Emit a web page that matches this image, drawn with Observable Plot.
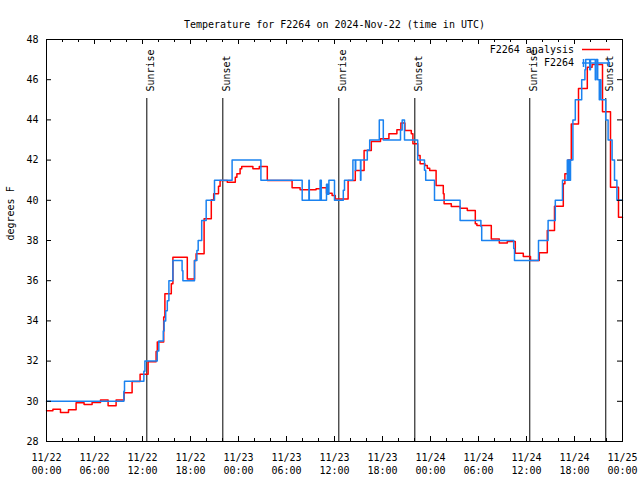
<!DOCTYPE html>
<html><head><meta charset="utf-8">
<script src="https://cdn.jsdelivr.net/npm/d3@7"></script>
<script src="https://cdn.jsdelivr.net/npm/@observablehq/plot@0.6"></script>
<style>body{margin:0;background:#fff}svg{display:block}</style>
</head><body><div id="chart"></div>
<script>
const title = "Temperature for F2264 on 2024-Nov-22 (time in UTC)";
const yLabel = "degrees F";
const baseDate = Date.UTC(2024, 10, 22); // hours below are counted from 2024-11-22 00:00 UTC
const analysisName = "F2264 analysis";
const obsName = "F2264";

// [hour, °F] — analysis (red)
const analysis = [
  [0,29.53],[0.8,29.6],[1.75,29.44],[2.75,29.58],[3.7,29.93],[4.7,29.84],[5.7,29.94],[6.75,30.07],
  [7.7,29.78],[8.7,30.07],[9.7,30.42],[10.7,30.98],[11.7,31.35],[12.7,31.97],[13.7,32.48],[13.85,32.95],
  [14.65,34.2],[14.8,35.35],[15.6,35.85],[15.8,37.17],[17.6,36.09],[18.5,37.0],[18.7,37.34],[19.7,39.08],
  [20.6,40.03],[20.9,40.32],[21.5,40.7],[21.7,40.99],[22.6,40.9],[23.6,41.15],[23.8,41.32],[24.2,41.57],
  [24.4,41.68],[25.8,41.57],[26.6,41.68],[27.6,40.99],[30.7,40.62],[31.7,40.52],[33.7,40.57],[34.3,40.62],
  [35.0,40.35],[35.7,40.24],[36.1,40.07],[37.7,40.99],[38.6,41.48],[39.7,42.48],[40.6,42.93],[41.75,43.06],
  [42.8,43.31],[43.8,43.51],[44.3,43.84],[44.8,43.47],[45.6,43.31],[45.8,42.81],[46.4,42.23],[46.7,41.82],
  [47.3,41.73],[47.6,41.6],[47.9,41.48],[48.7,40.74],[49.6,40.32],[49.7,39.83],[50.6,39.69],[51.7,39.61],
  [52.6,39.49],[53.6,38.83],[53.8,38.75],[55.6,38.08],[56.6,37.87],[57.6,37.95],[58.6,37.37],[59.6,37.2],
  [60.5,37.0],[61.6,37.39],[62.6,38.5],[63.5,39.71],[64.6,40.82],[64.8,41.32],[65.2,42.0],[65.6,43.8],
  [66.5,45.56],[67.6,46.62],[68.2,46.76],[69.5,44.4],[70.5,40.65],[71.5,39.16],[72,39.16]
];

// [hour, °F] — station observations (blue)
const observed = [
  [0,30.0],[9.67,30.5],[9.75,31.0],[12.17,31.5],[12.3,32.0],[13.84,32.5],[14.04,33.0],[14.6,33.5],
  [14.7,34.0],[14.9,34.5],[15.1,35.0],[15.3,36.0],[15.8,37.0],[16.95,36.5],[17.05,36.0],[18.5,37.0],
  [18.8,37.5],[18.96,38.0],[19.4,39.0],[19.96,40.0],[21.0,41.0],[23.2,42.0],[26.8,41.0],[31.96,40.0],
  [32.8,41.0],[32.85,40.0],[34.2,41.0],[34.25,40.0],[34.3,41.0],[34.35,40.0],[35.0,40.8],[35.05,40.3],
  [35.1,40.8],[35.15,40.3],[35.3,41.0],[36.0,40.0],[37.1,40.5],[37.25,41.0],[38.3,42.0],[38.6,41.5],
  [38.65,42.0],[39.25,41.0],[39.3,42.0],[40.1,42.5],[40.4,43.0],[41.6,44.0],[42.1,43.0],[44.25,43.5],
  [44.46,44.0],[44.75,43.0],[46.4,42.0],[47.25,41.5],[47.4,41.0],[48.5,40.0],[51.7,39.0],[54.3,38.7],
  [54.4,38.0],[58.4,37.6],[58.5,37.0],[61.5,38.0],[62.7,39.0],[63.6,40.0],[64.5,41.0],[65.1,42.0],
  [65.2,41.0],[65.3,42.0],[65.4,41.0],[65.5,42.0],[65.8,44.0],[66.1,45.0],[66.9,46.0],[67.3,46.5],
  [67.4,47.0],[67.9,46.5],[68.0,47.0],[68.6,46.0],[68.7,47.0],[68.9,46.0],[69.1,45.0],[69.15,46.0],
  [69.3,45.0],[69.9,44.0],[70.2,43.0],[70.7,42.0],[71.0,41.0],[71.3,40.0],[72,40.0]
];

const sunLabels = ["Sunrise","Sunset","Sunrise","Sunset","Sunrise","Sunset"];
const sunHours  = [12.54, 22.04, 36.54, 46.04, 60.41, 69.91];

const xMajorHours = [0,6,12,18,24,30,36,42,48,54,60,66,72];
const xTickLabels = ["11/22\n00:00","11/22\n06:00","11/22\n12:00","11/22\n18:00","11/23\n00:00","11/23\n06:00",
  "11/23\n12:00","11/23\n18:00","11/24\n00:00","11/24\n06:00","11/24\n12:00","11/24\n18:00","11/25\n00:00"];
const xMinorHours = [2,4,8,10,14,16,20,22,26,28,32,34,38,40,44,46,50,52,56,58,62,64,68,70];
const yTicks = [28,30,32,34,36,38,40,42,44,46,48];

const toDate = h => new Date(baseDate + h * 3600e3);
const W = 640, H = 480, mL = 46, mR = 18, mT = 39, mB = 39;
const pw = W - mL - mR, ph = H - mT - mB;
const RED = "#ff0000", BLUE = "#1a82f0";
const sun = sunHours.map((h, i) => ({h, label: sunLabels[i]}));

const chart = Plot.plot({
  width: W, height: H,
  marginLeft: mL, marginRight: mR, marginTop: mT, marginBottom: mB,
  style: {fontFamily: "DejaVu Sans Mono", fontSize: "10px", background: "#fff", color: "#000"},
  x: {type: "utc", domain: [toDate(0), toDate(72)], axis: null},
  y: {domain: [28, 48], axis: null},
  marks: [
    Plot.ruleX(sun, {x: d => toDate(d.h), insetTop: 59, stroke: "#000"}),
    Plot.text(sun, {x: d => toDate(d.h), text: "label", frameAnchor: "top", rotate: -90, textAnchor: "start", dy: 52, fill: "#000"}),
    Plot.line(analysis, {x: d => toDate(d[0]), y: d => d[1], curve: "step-after", stroke: RED, strokeWidth: 1.5}),
    Plot.line(observed, {x: d => toDate(d[0]), y: d => d[1], curve: "step-after", stroke: BLUE, strokeWidth: 1.5}),
    Plot.frame({stroke: "#000"}),
    Plot.ruleX(xMajorHours, {x: toDate, insetTop: ph - 5, stroke: "#000"}),
    Plot.ruleX(xMajorHours, {x: toDate, insetBottom: ph - 5, stroke: "#000"}),
    Plot.ruleX(xMinorHours, {x: toDate, insetTop: ph - 3, stroke: "#000"}),
    Plot.ruleX(xMinorHours, {x: toDate, insetBottom: ph - 3, stroke: "#000"}),
    Plot.ruleY(yTicks, {y: d => d, insetRight: pw - 5, stroke: "#000"}),
    Plot.ruleY(yTicks, {y: d => d, insetLeft: pw - 5, stroke: "#000"}),
    Plot.text(xMajorHours, {x: toDate, text: (d, i) => xTickLabels[i], frameAnchor: "bottom", lineAnchor: "top", dy: 10, lineHeight: 1.3, fill: "#000"}),
    Plot.text(yTicks, {y: d => d, text: d => String(d), frameAnchor: "left", textAnchor: "end", dx: -8, fill: "#000"}),
    Plot.text([yLabel], {frameAnchor: "left", rotate: -90, dx: -36, fill: "#000"}),
    Plot.text([title], {frameAnchor: "top", dy: -19, fill: "#000"}),
    Plot.text([analysisName, obsName], {frameAnchor: "top-right", textAnchor: "end", dx: -48, dy: (d, i) => 0, fill: "#000"}).filter ? null : null
  ].filter(Boolean)
});

// legend (gnuplot key, top right inside the frame)
const svg = d3.select(chart);
const key = svg.append("g").attr("font-family", "DejaVu Sans Mono").attr("font-size", 10);
const kx2 = W - mR - 12, kx1 = kx2 - 28, ktx = W - mR - 48;
[[analysisName, RED, mT + 10.5, false], [obsName, BLUE, mT + 24, true]].forEach(([name, col, y, bars]) => {
  key.append("text").attr("x", ktx).attr("y", y).attr("dy", "0.32em").attr("text-anchor", "end").attr("fill", "#000").text(name);
  key.append("line").attr("x1", kx1).attr("x2", kx2).attr("y1", y).attr("y2", y).attr("stroke", col).attr("stroke-width", 1.5);
  if (bars) [kx1 + 1.5, kx2 - 1.5].forEach(x => key.append("line").attr("x1", x).attr("x2", x).attr("y1", y - 4).attr("y2", y + 4).attr("stroke", col).attr("stroke-width", 1.5));
});
document.getElementById("chart").append(chart);
</script>
</body></html>
